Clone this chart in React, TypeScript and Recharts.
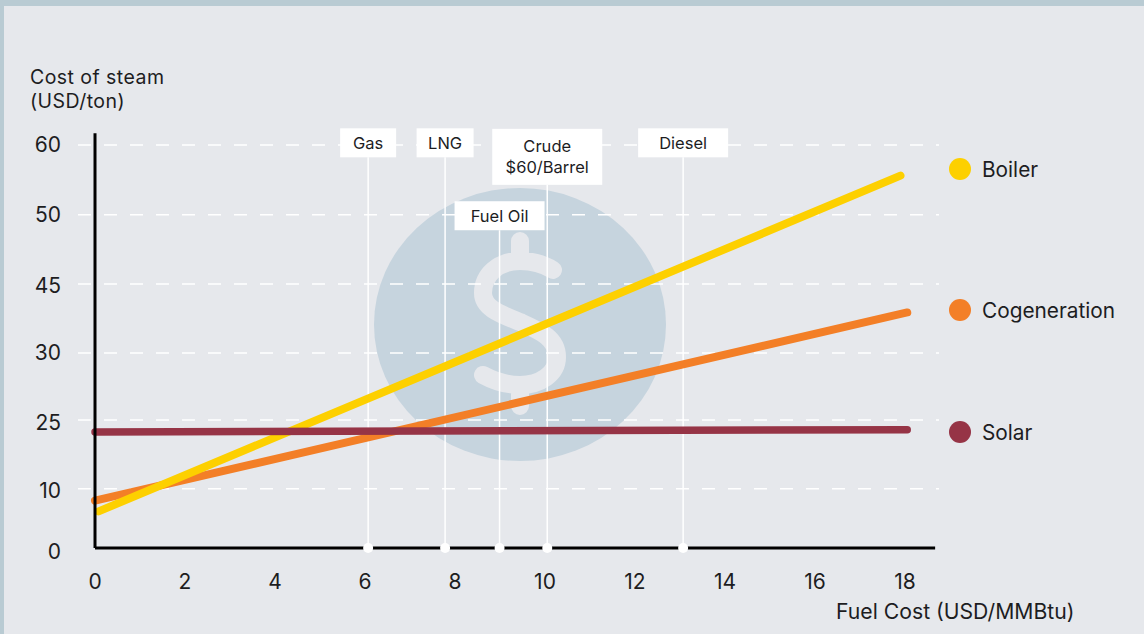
import { CartesianGrid, Line, LineChart, ReferenceDot, ReferenceLine, XAxis, YAxis } from 'recharts'

const FONT = 'Inter, sans-serif'
const INK = '#1d1d1f'

// x axis, USD/MMBtu
const xTicks = [0, 2, 4, 6, 8, 10, 12, 14, 16, 18]

// y axis labels are not evenly spaced in the source, so each label gets a slot on the axis
const yLabels = [0, 10, 25, 30, 45, 50, 60]
const ySlots = [0, 0.86, 1.86, 2.835, 3.84, 4.845, 5.86]

// values
const fuelCost = [0, 0.08, 17.9, 18.05]
const boiler = [null, 6.2, 55.6, null]
const cogeneration = [8, null, null, 38.8]
const solar = [22.4, null, null, 22.9]

const seriesNames = ['Boiler', 'Cogeneration', 'Solar']
const seriesColors = ['#fdd000', '#f37f27', '#963446']
const legendCenters = [169, 310, 432]

const markerNames = [['Gas'], ['LNG'], ['Fuel Oil'], ['Crude', '$60/Barrel'], ['Diesel']]
const markerCosts = [6.07, 7.78, 8.99, 10.05, 13.07]
const markerBoxes = [
  { top: 5.68, width: 56, height: 29 },
  { top: 5.68, width: 57, height: 29 },
  { top: 4.62, width: 90, height: 29 },
  { top: 5.28, width: 110, height: 56 },
  { top: 5.68, width: 90, height: 29 },
]

// piecewise map from a label value to its slot on the axis
function toSlot(v: number | null) {
  if (v === null) return null
  for (let i = 1; i < yLabels.length; i++) {
    if (v <= yLabels[i]) {
      const t = (v - yLabels[i - 1]) / (yLabels[i] - yLabels[i - 1])
      return ySlots[i - 1] + t * (ySlots[i] - ySlots[i - 1])
    }
  }
  return ySlots[ySlots.length - 1]
}

const chartData = fuelCost.map((x, i) => ({
  x,
  boiler: toSlot(boiler[i]),
  cogeneration: toSlot(cogeneration[i]),
  solar: toSlot(solar[i]),
}))

function MarkerBox(props: any) {
  const { cx, cy, lines, width, height } = props
  const mid = cy + height / 2
  return (
    <g>
      <rect x={cx - width / 2} y={cy} width={width} height={height} fill="#fff" />
      <text x={cx} y={mid} textAnchor="middle" fontFamily={FONT} fontSize={16.5} fill={INK}>
        {lines.map((t: string, i: number) => (
          <tspan key={t} x={cx} dy={i === 0 ? (lines.length === 1 ? 6 : -5) : 21}>
            {t}
          </tspan>
        ))}
      </text>
    </g>
  )
}

function YTick(props: any) {
  const { x, y, index } = props
  const nudge = [4, 2, 3, 0, 2, 0, 0][index] ?? 0
  return (
    <text x={x} y={y + nudge + 7} textAnchor="end" fontFamily={FONT} fontSize={21} fill={INK}>
      {yLabels[index]}
    </text>
  )
}

function DollarBackdrop() {
  return (
    <svg width={1144} height={634} style={{ position: 'absolute', left: 0, top: 0 }}>
      <ellipse cx={520} cy={324.5} rx={146} ry={136.5} fill="#c6d4de" />
      <path
        d="M553 270 C542 263 532 261 520 261 C498 261 483 275 483 293 C483 308 500 314 520 322 C540 331 557 338 557 357 C557 374 540 385 520 385 C506 385 494 381 483 375 M520 241 L520 261 M520 385 L520 406"
        fill="none"
        stroke="#e6e8ec"
        strokeWidth={18}
        strokeLinecap="round"
      />
    </svg>
  )
}

export default function App() {
  return (
    <div
      style={{
        position: 'absolute',
        left: 0,
        top: 0,
        width: 1144,
        height: 634,
        overflow: 'hidden',
        background: '#e6e8ec',
        fontFamily: FONT,
        color: INK,
      }}
    >
      <div style={{ position: 'absolute', left: 0, top: 0, width: 1144, height: 6, background: '#b9cbd3' }} />
      <div style={{ position: 'absolute', left: 0, top: 0, width: 4, height: 634, background: '#b9cbd3' }} />
      <DollarBackdrop />

      <div style={{ position: 'absolute', left: 30, top: 65, fontSize: 19.5, letterSpacing: 0.45, lineHeight: '24px' }}>
        Cost of steam
        <br />
        (USD/ton)
      </div>

      <div style={{ position: 'absolute', left: 0, top: 0 }}>
        <LineChart
          width={1144}
          height={634}
          data={chartData}
          margin={{ top: 125, right: 205, bottom: 0, left: 0 }}
        >
          <CartesianGrid
            horizontal
            vertical={false}
            stroke="#ffffff"
            strokeWidth={1.5}
            strokeDasharray="13 13"
            horizontalValues={ySlots.slice(1)}
          />
          <XAxis
            dataKey="x"
            type="number"
            domain={[-0.378, 18.756]}
            ticks={xTicks}
            axisLine={false}
            tickLine={false}
            tickMargin={20}
            tick={{ fontFamily: FONT, fontSize: 21, fill: INK }}
            height={86}
            allowDataOverflow
          />
          <YAxis
            type="number"
            domain={[0, 6.15]}
            ticks={ySlots}
            interval={0}
            width={78}
            axisLine={false}
            tickLine={false}
            tickSize={0}
            tickMargin={17}
            tick={<YTick />}
          />

          {markerCosts.map((cost, i) => (
            <ReferenceLine
              key={cost}
              segment={[
                { x: cost, y: markerBoxes[i].top },
                { x: cost, y: 0 },
              ]}
              stroke="#ffffff"
              strokeWidth={1.5}
            />
          ))}

          <Line dataKey="cogeneration" stroke={seriesColors[1]} strokeWidth={8} strokeLinecap="round" dot={false} connectNulls isAnimationActive={false} />
          <Line dataKey="boiler" stroke={seriesColors[0]} strokeWidth={8} strokeLinecap="round" dot={false} connectNulls isAnimationActive={false} />
          <Line dataKey="solar" stroke={seriesColors[2]} strokeWidth={7.5} strokeLinecap="round" dot={false} connectNulls isAnimationActive={false} />

          <ReferenceLine segment={[{ x: 0, y: 6.03 }, { x: 0, y: 0 }]} stroke="#000" strokeWidth={3} />
          <ReferenceLine segment={[{ x: 0, y: 0 }, { x: 18.67, y: 0 }]} stroke="#000" strokeWidth={3} />

          {markerCosts.map((cost) => (
            <ReferenceDot key={cost} x={cost} y={0} r={5} fill="#ffffff" stroke="none" />
          ))}
          {markerCosts.map((cost, i) => (
            <ReferenceDot
              key={cost}
              x={cost}
              y={markerBoxes[i].top}
              shape={(p: any) => (
                <MarkerBox
                  cx={p.cx}
                  cy={p.cy - markerBoxes[i].height}
                  lines={markerNames[i]}
                  width={markerBoxes[i].width}
                  height={markerBoxes[i].height}
                />
              )}
            />
          ))}
        </LineChart>
      </div>

      {seriesNames.map((name, i) => (
        <div key={name} style={{ position: 'absolute', left: 949, top: legendCenters[i] - 15, height: 30, display: 'flex', alignItems: 'center' }}>
          <span style={{ width: 22, height: 22, borderRadius: 11, background: seriesColors[i], marginRight: 11 }} />
          <span style={{ fontSize: 20.8 }}>{name}</span>
        </div>
      ))}

      <div style={{ position: 'absolute', left: 836, top: 599, fontSize: 21.2, lineHeight: '24px' }}>
        Fuel Cost (USD/MMBtu)
      </div>
    </div>
  )
}
